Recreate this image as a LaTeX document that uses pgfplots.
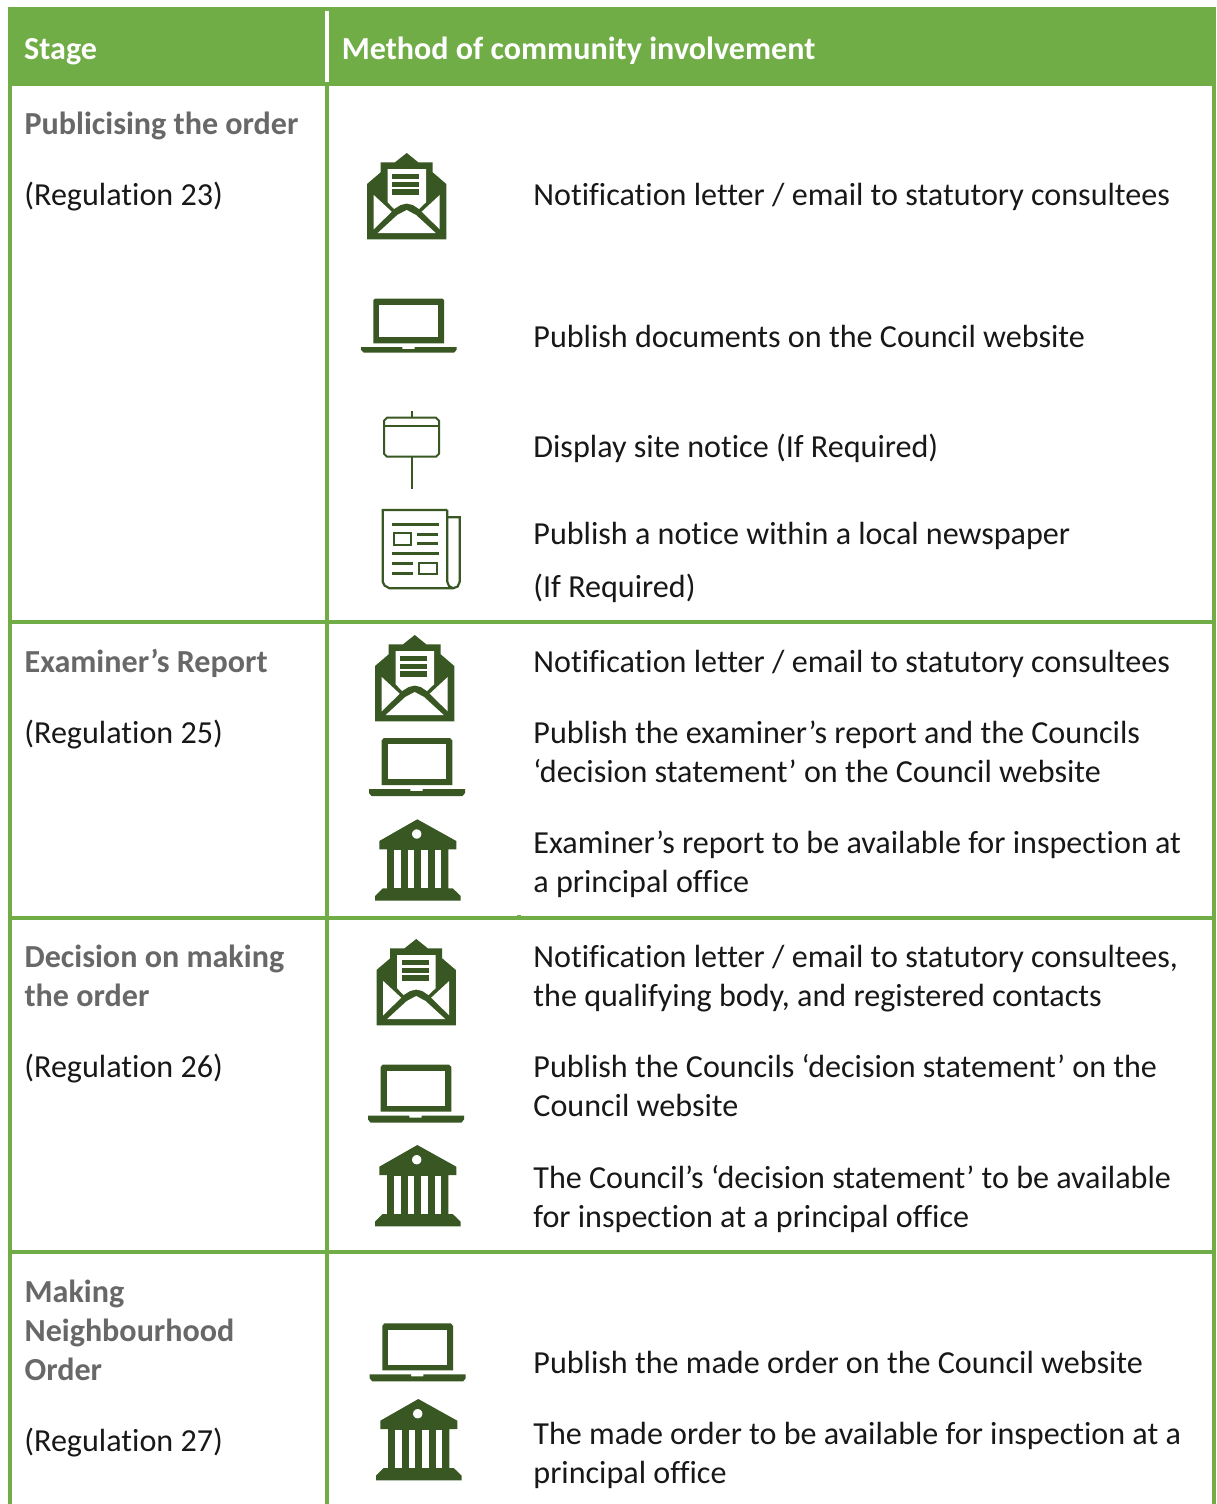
\documentclass[border=0pt]{standalone}
\usepackage{pgfplots}
\pgfplotsset{compat=1.18}
\usepackage{fontspec}
\setmainfont[Ligatures={TeX,NoCommon}]{Carlito}
\definecolor{hdr}{HTML}{70AD47}
\definecolor{dk}{HTML}{385723}
\definecolor{gr}{HTML}{686868}
\definecolor{tx}{HTML}{181818}
\newcommand\RC[5]{\addplot[fill=#1,draw=none] coordinates {(#2,#3)(#4,#3)(#4,#5)(#2,#5)} --cycle;}
% shifted filled polygon
\newcommand\PG[4]{\addplot[fill=#1,draw=none,x filter/.expression={x+#2},y filter/.expression={y+#3}] coordinates {#4} --cycle;}
\newcommand\mail[2]{%
\PG{dk}{#1}{#2}{(39.7,0)(28,9.3)(13.7,9.3)(13.7,19.3)(0,31)(0,86.3)(79.3,86.3)(79.3,31)(65.7,19.3)(65.7,9.3)(51.3,9.3)}
\PG{white}{#1}{#2}{(20.7,16)(59,16)(59,49.3)(52,56)(46,52)(39.7,50.5)(33.5,52)(27,56)(20.7,49.3)}
\PG{dk}{#1}{#2}{(25.3,21)(52,21)(52,26.3)(25.3,26.3)}
\PG{dk}{#1}{#2}{(25.3,28.7)(52,28.7)(52,34)(25.3,34)}
\PG{dk}{#1}{#2}{(25.3,36.3)(52,36.3)(52,41.7)(25.3,41.7)}
\PG{white}{#1}{#2}{(6.7,42)(6.7,76.3)(24.7,58.7)}
\PG{white}{#1}{#2}{(72.7,42)(72.7,76.3)(54.7,58.7)}
\PG{white}{#1}{#2}{(10.7,80)(68.7,80)(49,62)(39.7,57)(30.3,62)}
}
\newcommand\laptop[2]{%
\PG{dk}{#1}{#2}{(14,0)(81.5,0)(83,1.5)(83,44.6)(12.3,44.6)(12.3,1.5)}
\PG{white}{#1}{#2}{(18.3,6)(77,6)(77,38.6)(18.3,38.6)}
\PG{dk}{#1}{#2}{(0,48.3)(41.3,48.3)(41.3,50.3)(53.7,50.3)(53.7,48.3)(95.7,48.3)(95.7,51)(93,54)(2.7,54)(0,51)}
}
\newcommand\laptopB[2]{%
\PG{dk}{#1}{#2}{(14.7,0)(81,0)(83.3,2.5)(83.3,47)(12.7,47)(12.7,2.5)}
\PG{white}{#1}{#2}{(18.7,6.3)(77.3,6.3)(77.3,41.3)(18.7,41.3)}
\PG{dk}{#1}{#2}{(0,51)(41.3,51)(41.3,53)(53.7,53)(53.7,51)(96,51)(96,55)(93.5,58)(2.5,58)(0,55)}
}
\newcommand\bank[2]{%
\PG{dk}{#1}{#2}{(42.3,0)(81.3,21.7)(81.3,30)(73.3,30)(73.3,69)(77.7,69)(85.7,76.7)(85.7,81.4)(0,81.4)(0,76.7)(7.7,69)(12,69)(12,30)(4.3,30)(4.3,21.7)}
\PG{white}{#1}{#2}{(19,30.7)(25.7,30.7)(25.7,69)(19,69)}
\PG{white}{#1}{#2}{(32.7,30.7)(39.3,30.7)(39.3,69)(32.7,69)}
\PG{white}{#1}{#2}{(46,30.7)(52.7,30.7)(52.7,69)(46,69)}
\PG{white}{#1}{#2}{(59.7,30.7)(66.3,30.7)(66.3,69)(59.7,69)}
\PG{white}{#1}{#2}{(46.4,14.7)(45.8,17)(44,18.8)(41.7,19.4)(39.4,18.8)(37.6,17)(37,14.7)(37.6,12.4)(39.4,10.6)(41.7,10)(44,10.6)(45.8,12.4)}
}
\newcommand\TX[3]{\node[anchor=base west,inner sep=0pt,outer sep=0pt,text=tx,font=\fontsize{32.1}{38}\selectfont,yshift=-11.2pt,xshift=-0.6pt] at (axis cs:#1,#2) {#3};}
\newcommand\BX[3]{\node[anchor=base west,inner sep=0pt,outer sep=0pt,text=gr,font=\fontsize{32.1}{38}\selectfont\bfseries,yshift=-11.2pt,xshift=-0.4pt] at (axis cs:#1,#2) {#3};}
\begin{document}
\begin{tikzpicture}
\begin{axis}[width=1216pt,height=1504pt,scale only axis,hide axis,clip=false,
 xmin=0,xmax=1216,ymin=0,ymax=1504,y dir=reverse,enlargelimits=false]
\RC{white}{0}{0}{1216}{1504}
% header and rules
\RC{hdr}{8}{7}{1216}{86}
\RC{white}{325}{11}{329}{82}
\RC{hdr}{8}{86}{12}{1504}
\RC{hdr}{325}{86}{329}{1504}
\RC{hdr}{1212}{86}{1216}{1504}
\RC{hdr}{8}{620}{1216}{624}
\RC{hdr}{8}{916}{1216}{920}
\RC{hdr}{8}{1250}{1216}{1254}
\RC{hdr}{517}{915}{521}{916}
% icons
\mail{367}{153}
\laptop{361}{298.7}
% sign
\addplot[draw=dk,line width=2pt] coordinates {(387,417.7)(436,417.7)(439,420.7)(439,453.7)(436,456.7)(387,456.7)(384,453.7)(384,420.7)} --cycle;
\addplot[draw=dk,line width=2pt] coordinates {(384,426)(439,426)};
\addplot[draw=dk,line width=2pt] coordinates {(411.5,411)(411.5,417.7)};
\addplot[draw=dk,line width=2pt] coordinates {(411.5,456.7)(411.5,489.3)};
% newspaper
\addplot[draw=dk,line width=2.2pt] coordinates {(447.3,510)(382.7,510)(382.7,581.7)(384.5,585.5)(389.5,588.3)(453,588.3)(457.7,586.5)(459.7,581.7)(459.7,517.3)(447.3,517.3)};
\addplot[draw=dk,line width=2.2pt] coordinates {(447.3,510)(447.3,581.7)(449,586)(453,588.3)};
\addplot[draw=dk,line width=2.6pt] coordinates {(392,524.3)(439,524.3)};
\addplot[draw=dk,line width=2.2pt] coordinates {(393.7,533.3)(411,533.3)(411,544.7)(393.7,544.7)} --cycle;
\addplot[draw=dk,line width=2.6pt] coordinates {(417,534.3)(438,534.3)};
\addplot[draw=dk,line width=2.6pt] coordinates {(417,543.3)(438,543.3)};
\addplot[draw=dk,line width=2.6pt] coordinates {(392,553.3)(439,553.3)};
\addplot[draw=dk,line width=2.6pt] coordinates {(392,563.3)(412.7,563.3)};
\addplot[draw=dk,line width=2.6pt] coordinates {(392,573.3)(412.7,573.3)};
\addplot[draw=dk,line width=2.2pt] coordinates {(419,562.7)(436.7,562.7)(436.7,574)(419,574)} --cycle;
\mail{375}{635}
\laptopB{369}{738}
\bank{375}{819.3}
\mail{376.5}{939}
\laptopB{368}{1064.5}
\bank{375}{1145}
\laptopB{369.7}{1323.3}
\bank{376}{1399}
% header text
\node[anchor=base west,inner sep=0pt,text=white,font=\fontsize{32.1}{38}\selectfont\bfseries] at (axis cs:24,59.6) {Stage};
\node[anchor=base west,inner sep=0pt,text=white,font=\fontsize{32.1}{38}\selectfont\bfseries] at (axis cs:341.6,59.6) {Method of community involvement};
% stage column
\BX{25}{123}{Publicising the order}
\TX{25}{194}{(Regulation 23)}
\BX{25}{661}{Examiner’s Report}
\TX{25}{732}{(Regulation 25)}
\BX{25}{956}{Decision on making}
\BX{25}{995}{the order}
\TX{25}{1066}{(Regulation 26)}
\BX{25}{1291}{Making}
\BX{25}{1330}{Neighbourhood}
\BX{25}{1369}{Order}
\TX{25}{1440}{(Regulation 27)}
% method column
\TX{534}{194}{Notification letter / email to statutory consultees}
\TX{534}{336}{Publish documents on the Council website}
\TX{534}{446}{Display site notice (If Required)}
\TX{534}{533}{Publish a notice within a local newspaper}
\TX{534}{586}{(If Required)}
\TX{534}{661}{Notification letter / email to statutory consultees}
\TX{534}{732}{Publish the examiner’s report and the Councils}
\TX{534}{771}{‘decision statement’ on the Council website}
\TX{534}{842}{Examiner’s report to be available for inspection at}
\TX{534}{881}{a principal office}
\TX{534}{956}{Notification letter / email to statutory consultees,}
\TX{534}{995}{the qualifying body, and registered contacts}
\TX{534}{1066}{Publish the Councils ‘decision statement’ on the}
\TX{534}{1105}{Council website}
\TX{534}{1177}{The Council’s ‘decision statement’ to be available}
\TX{534}{1216}{for inspection at a principal office}
\TX{534}{1362}{Publish the made order on the Council website}
\TX{534}{1433}{The made order to be available for inspection at a}
\TX{534}{1472}{principal office}
\end{axis}
\end{tikzpicture}
\end{document}
